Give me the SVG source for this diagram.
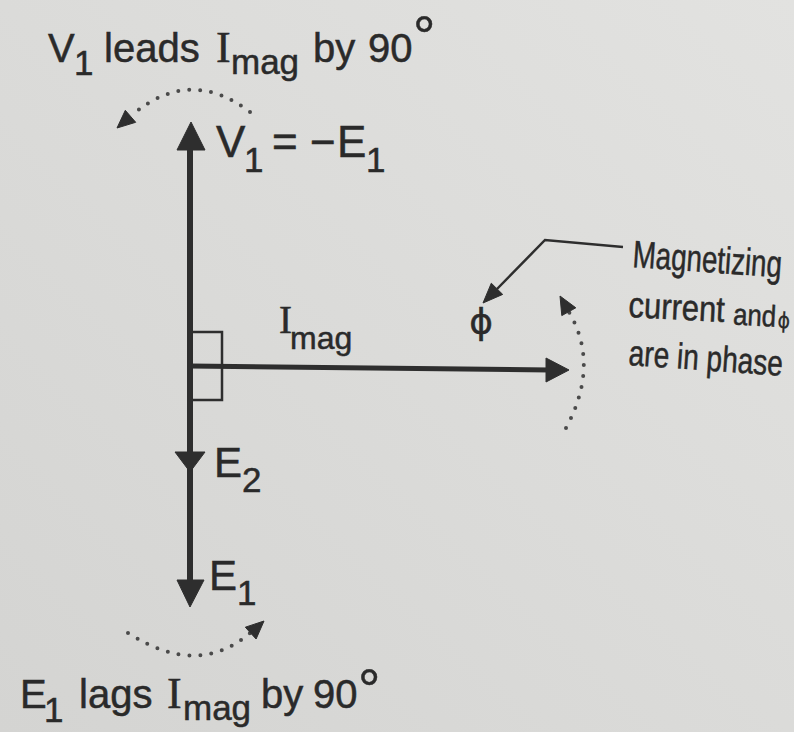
<svg xmlns="http://www.w3.org/2000/svg" width="794" height="732" viewBox="0 0 794 732">
<defs>
<linearGradient id="bg" x1="0" y1="1" x2="1" y2="0">
<stop offset="0" stop-color="#d4d4d2"/>
<stop offset="1" stop-color="#e2e2e0"/>
</linearGradient>
</defs>
<style>
.t{font-family:"Liberation Sans",Arial,sans-serif;fill:#2a2a2a;stroke:#2a2a2a;stroke-width:0.5}
.s{font-family:"Liberation Serif","Times New Roman",serif}
.ph{font-family:"DejaVu Sans",sans-serif}
.ln{stroke:#2e2e2e;fill:none}
.hd{fill:#2e2e2e;stroke:#2e2e2e;stroke-width:1;stroke-linejoin:round}
.dot{stroke:#4a4a4a;fill:none;stroke-width:4;stroke-dasharray:0 11;stroke-linecap:round}
</style>
<rect width="794" height="732" fill="url(#bg)"/>

<g id="connectors">
<line class="ln" x1="190" y1="140" x2="190" y2="588" stroke-width="6"/>
<polygon class="hd" points="191,122 177,150 205,150"/>
<polygon class="hd" points="190,472 175,452 205,452"/>
<polygon class="hd" points="190,607 177,580 204,580"/>
<line class="ln" x1="190" y1="366" x2="550" y2="370" stroke-width="5"/>
<polygon class="hd" points="569,370 546,358 546,382"/>
<rect class="ln" x="190" y="332" width="32" height="68" stroke-width="2.5"/>
<polyline class="ln" points="623,247 545,240 497,289" stroke-width="2.5"/>
<polygon class="hd" points="483,303 502.7,294.4 491.3,283.2"/>
<path class="dot" d="M 250 112 Q 190 66 132 115"/>
<polygon class="hd" points="117,128 135.7,122.3 125.3,110.3"/>
<path class="dot" d="M 128 633 Q 198 678 250 633"/>
<polygon class="hd" points="264,621 256.1,639 245.3,627.2"/>
<path class="dot" d="M 566 428 Q 600 365 569 312"/>
<polygon class="hd" points="560,296 575.8,307.8 561.8,315.6"/>
</g>

<g id="title-top">
<text class="t" font-size="40"><tspan x="48" y="62">V</tspan><tspan x="74" y="75" font-size="35">1</tspan><tspan x="104" y="62">leads</tspan><tspan class="s" x="216" y="62" font-size="44">I</tspan><tspan x="231" y="74" font-size="35">mag</tspan><tspan x="313" y="62">by</tspan><tspan x="368" y="62">90</tspan><tspan x="413" y="55" font-size="56">°</tspan></text>
</g>

<g id="label-v1">
<text class="t" font-size="44"><tspan x="216" y="157">V</tspan><tspan x="244" y="172" font-size="35">1</tspan><tspan x="272" y="157">=</tspan><tspan x="310" y="157">−</tspan><tspan x="337" y="157">E</tspan><tspan x="366" y="172" font-size="35">1</tspan></text>
</g>

<g id="label-imag">
<text class="t" font-size="32"><tspan class="s" x="279" y="333" font-size="39">I</tspan><tspan x="290" y="349">mag</tspan></text>
</g>

<g id="label-phi">
<text class="t ph" font-size="36" x="481" y="334" text-anchor="middle" stroke-width="0.3">ϕ</text>
</g>

<g id="label-e2">
<text class="t" font-size="42"><tspan x="214" y="477">E</tspan><tspan x="242" y="492" font-size="35">2</tspan></text>
</g>

<g id="label-e1">
<text class="t" font-size="42"><tspan x="209" y="590">E</tspan><tspan x="237" y="605" font-size="35">1</tspan></text>
</g>

<g id="note">
<text class="t" font-size="38" transform="translate(632 267) rotate(4) scale(0.73 1)">Magnetizing</text>
<text class="t" font-size="36" transform="translate(628 317) rotate(3) scale(0.86 1)"><tspan x="0" y="0">current</tspan><tspan x="122" y="2" font-size="30">and</tspan><tspan x="174" y="3" font-size="22" class="ph" stroke-width="0.3">ϕ</tspan></text>
<text class="t" font-size="36" transform="translate(628 365) rotate(4) scale(0.78 1)">are in phase</text>
</g>

<g id="title-bottom">
<text class="t" font-size="40"><tspan x="20" y="708">E</tspan><tspan x="44" y="722" font-size="35">1</tspan><tspan x="79" y="708">lags</tspan><tspan class="s" x="167" y="708" font-size="44">I</tspan><tspan x="183" y="720" font-size="35">mag</tspan><tspan x="261" y="708">by</tspan><tspan x="313" y="708">90</tspan><tspan x="358" y="708" font-size="56">°</tspan></text>
</g>
</svg>
